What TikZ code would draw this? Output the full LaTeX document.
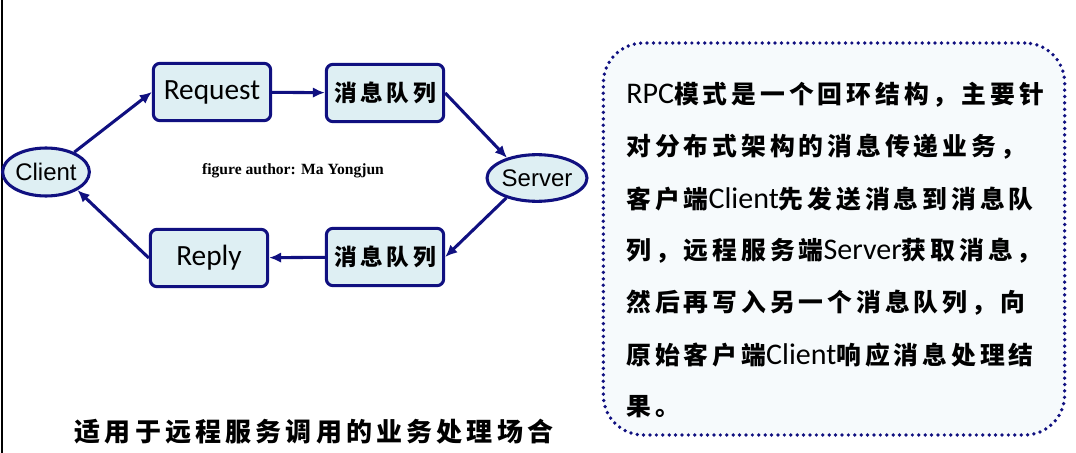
\documentclass[tikz,border=0pt]{standalone}
\usepackage{fontspec}
\usetikzlibrary{positioning,arrows.meta,shapes.geometric}
\newfontfamily\cjkfont[LetterSpace=16]{Noto Sans CJK SC}
\newfontfamily\boxfont{Carlito}
\newfontfamily\ellfont{Liberation Sans}
\newfontfamily\authfont{Liberation Serif}
\newcommand\latword[1]{{\boxfont\mdseries\fontsize{22.5}{24}\selectfont #1}}
\definecolor{rNavy}{RGB}{16,16,128}
\definecolor{rFill}{RGB}{222,239,243}
\definecolor{rNote}{RGB}{246,250,252}

\begin{document}
\begin{tikzpicture}[x=0.75pt,y=-0.75pt,
  box/.style={draw=rNavy,line width=2.3pt,rounded corners=5pt,fill=rFill,
              minimum width=88pt,minimum height=43pt,inner sep=0},
  ell/.style={draw=rNavy,line width=2.3pt,ellipse,fill=rFill,inner sep=0,
              font=\ellfont\fontsize{18}{20}\selectfont},
  lat/.style={font=\boxfont\fontsize{22}{24}\selectfont},
  zh/.style={font=\cjkfont\bfseries\fontsize{17}{19}\selectfont},
  flow/.style={draw=rNavy,line width=2.3pt,-{Latex[length=9pt,width=8pt]}}]

  \useasboundingbox (0,0) rectangle (1076,453);
  \draw[line width=2.2pt] (2,0) -- (2,453);

  % ---- loop : client -> queue -> server -> queue -> client ----
  \node[ell,minimum width=60pt,minimum height=36pt] (client) at (46,172) {Client};
  \node[box,lat] (request) at (212,92) {Request};
  \node[box,zh] (queueA) at (385,93) {消息队列};
  \node[ell,minimum width=59pt,minimum height=35pt] (server) at (537,178) {Server};
  \node[box,zh] (queueB) at (385,257) {消息队列};
  \node[box,lat] (reply) at (209,258) {Reply};

  \draw[flow] (client.35) -- (request.west);
  \draw[flow] (request) -- (queueA);
  \draw[flow] (queueA.east) -- (server.146);
  \draw[flow] (server.213) -- (queueB.east);
  \draw[flow] (queueB) -- (reply);
  \draw[flow] (reply.west) -- (client.-30);

  \node[font=\authfont\bfseries\fontsize{11.7}{13}\selectfont] (author) at (293,171)
    {figure author: Ma Yongjun};

  \node[font=\cjkfont\bfseries\fontsize{19.5}{21}\selectfont] (caption) at (314,432)
    {适用于远程服务调用的业务处理场合};

  % ---- note box ----
  \node[draw=rNavy,fill=rNote,line width=2.8pt,line cap=round,dash pattern=on 0pt off 4.8pt,
        rounded corners=30pt,minimum width=346pt,minimum height=294pt] (note) at (834,239) {};
  \foreach \t [count=\i] in
    {{\latword{RPC}模式是一个回环结构，主要针},
     {对分布式架构的消息传递业务，},
     {客户端\latword{Client}先发送消息到消息队},
     {列，远程服务端\latword{Server}获取消息，},
     {然后再写入另一个消息队列，向},
     {原始客户端\latword{Client}响应消息处理结},
     {果。}}
    \node[anchor=west,inner sep=0,font=\cjkfont\bfseries\fontsize{18.6}{20}\selectfont]
      (line\i) at (626,43+52*\i) {\t};

\end{tikzpicture}
\end{document}
